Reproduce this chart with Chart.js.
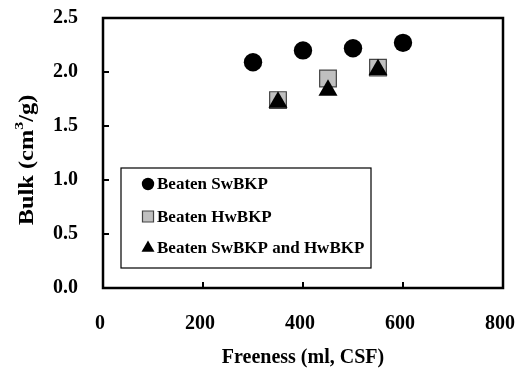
<!DOCTYPE html>
<html>
<head>
<meta charset="utf-8">
<script src="https://cdn.jsdelivr.net/npm/chart.js@4.4.1/dist/chart.umd.min.js"></script>
<style>
  html, body { margin: 0; padding: 0; background: #ffffff; }
  #wrap { width: 520px; height: 374px; }
</style>
</head>
<body>
<div id="wrap"><canvas id="c" width="520" height="374"></canvas></div>
<script>
// ---- data ----
const seriesNames = ["Beaten SwBKP", "Beaten HwBKP", "Beaten SwBKP and HwBKP"];
const swFreeness = [300, 400, 500, 600];
const swBulk = [2.09, 2.20, 2.22, 2.27];
const hwFreeness = [350, 450, 550];
const hwBulk = [1.74, 1.94, 2.04];
const mixFreeness = [350, 450, 550];
const mixBulk = [1.72, 1.83, 2.02];
const xTicks = [0, 200, 400, 600, 800];
const yTicks = [0.0, 0.5, 1.0, 1.5, 2.0, 2.5];
const xTitle = "Freeness (ml, CSF)";
const yTitleMain = "Bulk (cm";
const yTitleSup = "3";
const yTitleEnd = "/g)";

const pts = (xs, ys) => xs.map((x, i) => ({ x: x, y: ys[i] }));
const FONT = "'Liberation Serif', 'Times New Roman', serif";

const styles = [
  { pointStyle: 'circle', radius: 9.2, bg: '#000000', border: '#000000', bw: 0, lr: 6.2 },
  { pointStyle: 'rect', radius: 11.8, bg: '#c0c0c0', border: '#444444', bw: 1.2, lr: 7.8 },
  { pointStyle: 'triangle', radius: 11, bg: '#000000', border: '#000000', bw: 0, lr: 7.5 }
];

const datasets = [
  { label: seriesNames[0], data: pts(swFreeness, swBulk), order: 2 },
  { label: seriesNames[1], data: pts(hwFreeness, hwBulk), order: 1 },
  { label: seriesNames[2], data: pts(mixFreeness, mixBulk), order: 0 }
].map((d, i) => Object.assign(d, {
  pointStyle: styles[i].pointStyle,
  pointRadius: styles[i].radius,
  pointHoverRadius: styles[i].radius,
  backgroundColor: styles[i].bg,
  borderColor: styles[i].border,
  pointBorderWidth: styles[i].bw,
  borderWidth: styles[i].bw,
  showLine: false
}));

const framePlugin = {
  id: 'frame',
  afterDraw(chart) {
    const ctx = chart.ctx;
    const a = chart.chartArea;
    const xs = chart.scales.x, ys = chart.scales.y;
    ctx.save();
    // inward tick marks
    ctx.strokeStyle = '#000';
    ctx.lineWidth = 2;
    ctx.beginPath();
    ys.ticks.forEach(t => {
      const py = Math.round(ys.getPixelForValue(t.value));
      ctx.moveTo(a.left, py); ctx.lineTo(a.left + 6, py);
    });
    xs.ticks.forEach(t => {
      const px = Math.round(xs.getPixelForValue(t.value));
      ctx.moveTo(px, a.bottom); ctx.lineTo(px, a.bottom - 6);
    });
    ctx.stroke();
    // frame
    ctx.lineWidth = 2.5;
    ctx.strokeRect(a.left, a.top, a.right - a.left, a.bottom - a.top);

    // legend box
    const bx = a.left + 18, by = a.top + 150, bw = 250, bh = 100;
    ctx.fillStyle = '#fff';
    ctx.fillRect(bx, by, bw, bh);
    ctx.lineWidth = 1.2;
    ctx.strokeStyle = '#000';
    ctx.strokeRect(bx, by, bw, bh);
    const rowY = [by + 16, by + 48.5, by + 80];
    ctx.font = "bold 17px " + FONT;
    ctx.textBaseline = 'middle';
    ctx.textAlign = 'left';
    chart.data.datasets.forEach((d, i) => {
      const s = styles[i];
      ctx.fillStyle = s.bg;
      ctx.strokeStyle = s.border;
      ctx.lineWidth = s.bw;
      Chart.helpers.drawPoint(ctx, { pointStyle: s.pointStyle, radius: s.lr, rotation: 0, borderWidth: s.bw }, bx + 27, rowY[i]);
      ctx.fillStyle = '#000';
      ctx.fillText(d.label, bx + 36, rowY[i] + 1);
    });

    // y-axis title with superscript
    ctx.save();
    ctx.translate(28, (a.top + a.bottom) / 2 + 7);
    ctx.rotate(-Math.PI / 2);
    ctx.scale(1.22, 1);
    ctx.fillStyle = '#000';
    ctx.textBaseline = 'middle';
    ctx.font = "bold 20px " + FONT;
    const w1 = ctx.measureText(yTitleMain).width;
    ctx.font = "bold 13px " + FONT;
    const w2 = ctx.measureText(yTitleSup).width;
    ctx.font = "bold 20px " + FONT;
    const w3 = ctx.measureText(yTitleEnd).width;
    let x0 = -(w1 + w2 + w3) / 2;
    ctx.textAlign = 'left';
    ctx.fillText(yTitleMain, x0, 0);
    ctx.font = "bold 13px " + FONT;
    ctx.fillText(yTitleSup, x0 + w1, -8);
    ctx.font = "bold 20px " + FONT;
    ctx.fillText(yTitleEnd, x0 + w1 + w2, 0);
    ctx.restore();

    ctx.restore();
  }
};

new Chart(document.getElementById('c'), {
  type: 'scatter',
  data: { datasets: datasets },
  options: {
    responsive: false,
    animation: false,
    devicePixelRatio: 1,
    layout: { padding: { top: 18, right: 17, left: 0, bottom: 0 } },
    plugins: {
      legend: { display: false },
      tooltip: { enabled: false }
    },
    scales: {
      x: {
        type: 'linear',
        min: xTicks[0], max: xTicks[xTicks.length - 1],
        afterBuildTicks: s => { s.ticks = xTicks.map(v => ({ value: v })); },
        afterFit: s => { s.height = 86; s.paddingLeft = 0; s.paddingRight = 0; },
        grid: { display: false, drawTicks: false },
        border: { display: false },
        ticks: {
          padding: 24,
          labelOffset: -3,
          color: '#000',
          font: { family: FONT, size: 20, weight: 'bold' },
          maxRotation: 0,
          callback: v => String(v)
        },
        title: {
          display: true,
          text: xTitle,
          color: '#000',
          font: { family: FONT, size: 20, weight: 'bold' },
          padding: { top: 0, bottom: 4 }
        }
      },
      y: {
        type: 'linear',
        min: yTicks[0], max: yTicks[yTicks.length - 1],
        afterBuildTicks: s => { s.ticks = yTicks.map(v => ({ value: v })); },
        afterFit: s => { s.width = 103; s.paddingTop = 0; s.paddingBottom = 0; },
        grid: { display: false, drawTicks: false },
        border: { display: false },
        ticks: {
          padding: 25,
          color: '#000',
          font: { family: FONT, size: 20, weight: 'bold' },
          callback: v => Number(v).toFixed(1)
        }
      }
    }
  },
  plugins: [framePlugin]
});
</script>
</body>
</html>
